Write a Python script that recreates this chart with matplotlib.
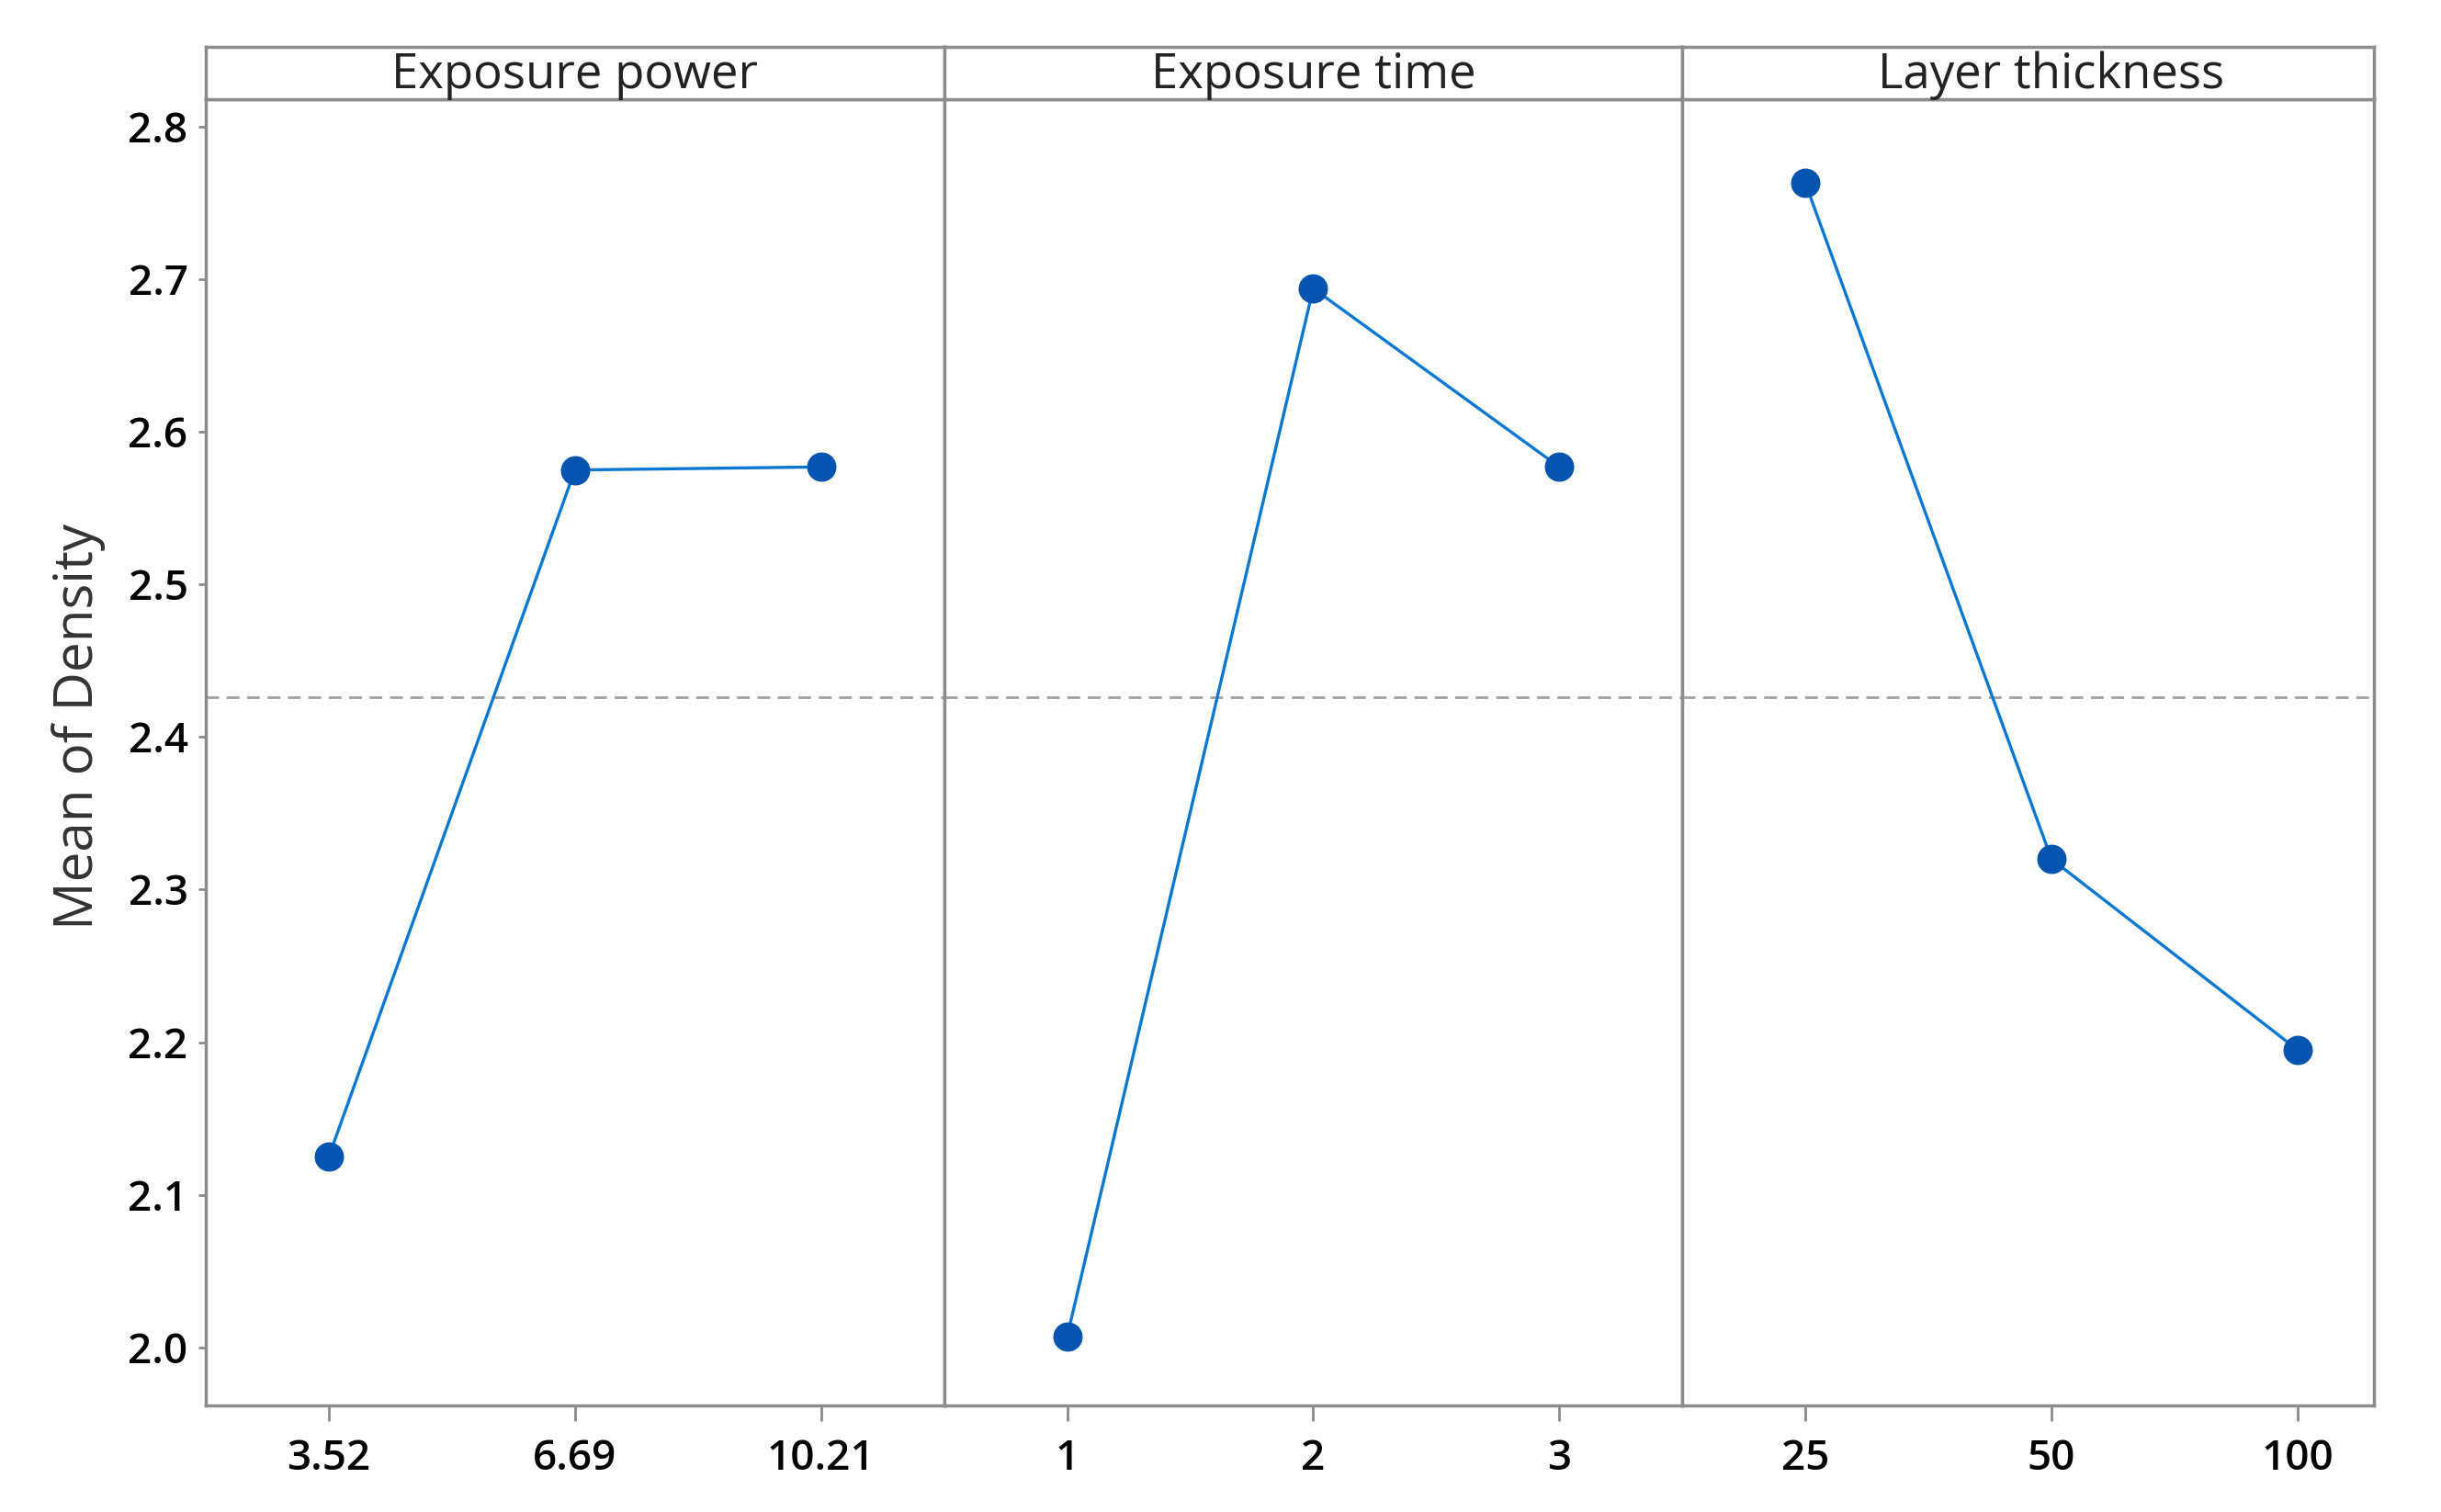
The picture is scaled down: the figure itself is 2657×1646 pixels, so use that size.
import matplotlib
matplotlib.use("Agg")
import matplotlib.pyplot as plt
import numpy as np

# main effects plot data
factors = ["Exposure power", "Exposure time", "Layer thickness"]
power_levels = ["3.52", "6.69", "10.21"]
time_levels = ["1", "2", "3"]
thick_levels = ["25", "50", "100"]
power_means = [2.125, 2.575, 2.577]
time_means = [2.007, 2.694, 2.577]
thick_means = [2.763, 2.320, 2.195]

levels = [power_levels, time_levels, thick_levels]
means = [power_means, time_means, thick_means]
grand_mean = np.mean(power_means + time_means + thick_means)

plt.rcParams['font.family'] = ['Open Sans', 'DejaVu Sans']
edge = '#8c8c8c'
line_c = '#0a78d2'
mark_c = '#0554b0'

# x ranges per panel (last panel is cut short on the right, as in the original)
xlims = [(0.5, 3.5), (0.5, 3.5), (0.5, 3.31)]
spans = [b - a for a, b in xlims]

fig = plt.figure(figsize=(26.57, 16.46), dpi=100)
left, right = 0.0843, 0.9725
bottom, top = 0.0705, 0.9344
strip_top = 0.969
unit = (right - left) / sum(spans)

x0 = left
for i in range(3):
    w = spans[i] * unit
    ax = fig.add_axes([x0, bottom, w, top - bottom])
    x = np.arange(1, 4)
    ax.axhline(grand_mean, color='#a0a0a0', ls=(0, (5, 3)), lw=2, zorder=1)
    ax.plot(x, means[i], color=line_c, lw=2.4, marker='o', ms=22,
            mfc=mark_c, mec=mark_c, zorder=3)
    ax.set_xlim(*xlims[i])
    ax.set_ylim(1.962, 2.818)
    ax.set_xticks(x)
    ax.set_xticklabels(levels[i], fontsize=33, fontweight='semibold')
    for s in ax.spines.values():
        s.set_color(edge)
        s.set_linewidth(2.5)
    ax.tick_params(axis='x', length=12, width=2, color=edge, pad=14)
    if i == 0:
        ax.set_yticks([2.0, 2.1, 2.2, 2.3, 2.4, 2.5, 2.6, 2.7, 2.8])
        ax.set_yticklabels(["2.0", "2.1", "2.2", "2.3", "2.4", "2.5", "2.6", "2.7", "2.8"],
                           fontsize=33, fontweight='semibold')
        ax.tick_params(axis='y', length=6, width=2, color=edge, pad=8)
        ax.set_ylabel("Mean of Density", fontsize=42, color='#333333')
        ax.yaxis.set_label_coords(-0.135, 0.52)
    else:
        ax.set_yticks([])

    # strip header
    sax = fig.add_axes([x0, top, w, strip_top - top])
    sax.set_xlim(*xlims[i])
    sax.set_ylim(0, 1)
    sax.set_xticks([])
    sax.set_yticks([])
    for s in sax.spines.values():
        s.set_color(edge)
        s.set_linewidth(2.5)
    sax.text(2, 0.45, factors[i], ha='center', va='center', fontsize=38,
             color='#222222')
    x0 += w

fig.savefig("out.png", dpi=100)
